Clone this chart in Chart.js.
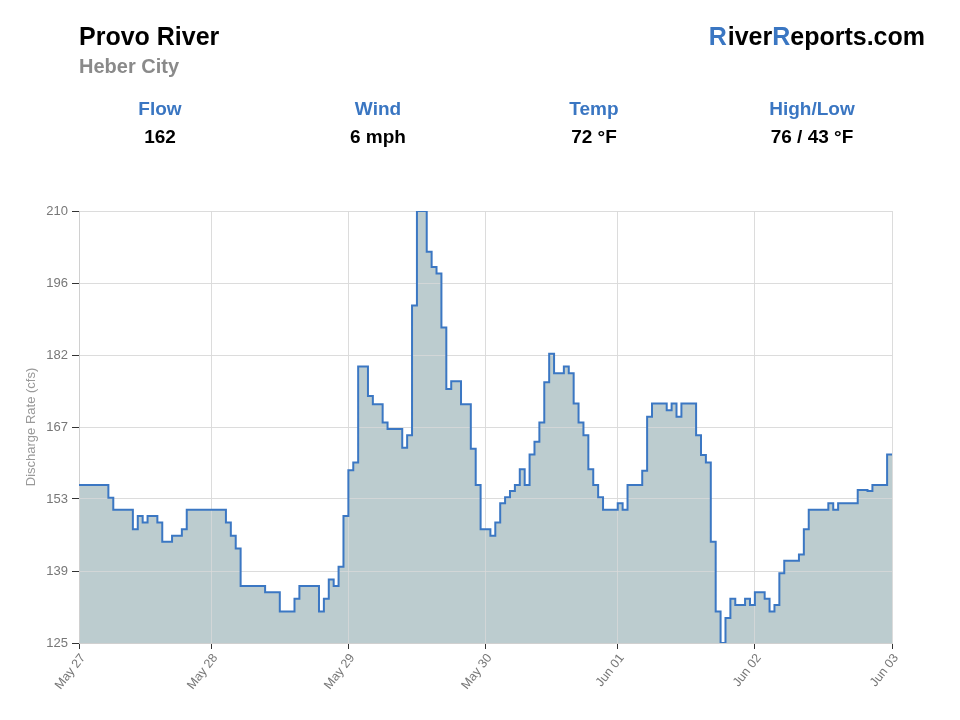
<!DOCTYPE html>
<html><head><meta charset="utf-8">
<script src="https://cdn.jsdelivr.net/npm/chart.js@4/dist/chart.umd.min.js"></script>
<style>
body{margin:0;background:#fff;font-family:"Liberation Sans",Arial,Helvetica,sans-serif;}
#wrap{position:relative;width:960px;height:720px;overflow:hidden;}
#c{position:absolute;left:0;top:0;}
.t{position:absolute;font-weight:bold;white-space:nowrap;line-height:1;}
.s{position:absolute;width:200px;text-align:center;font-weight:bold;line-height:1;font-size:19px;}
.blue{color:#3a76c2;}
</style></head><body>
<div id="wrap">
<canvas id="c" width="960" height="720"></canvas>
<div class="t" style="left:79px;top:24px;font-size:25px;color:#000">Provo River</div>
<div class="t" style="left:79px;top:56px;font-size:20px;color:#8a8a8a">Heber City</div>
<div class="t" style="right:35px;top:24px;font-size:25px;color:#000"><span class="blue">R</span><span style="margin-left:1px">iver</span><span class="blue">R</span>eports.com</div>
<div class="s blue" style="left:60px;top:99px">Flow</div>
<div class="s" style="left:60px;top:127px;color:#000">162</div>
<div class="s blue" style="left:278px;top:99px">Wind</div>
<div class="s" style="left:278px;top:127px;color:#000">6 mph</div>
<div class="s blue" style="left:494px;top:99px">Temp</div>
<div class="s" style="left:494px;top:127px;color:#000">72 °F</div>
<div class="s blue" style="left:712px;top:99px">High/Low</div>
<div class="s" style="left:712px;top:127px;color:#000">76 / 43 °F</div>
</div>
<script>
// hourly reading index where the reading starts, and discharge (cfs)
const hours = [0,6,7,11,12,13,14,16,17,19,21,22,30,31,32,33,38,41,44,45,49,50,51,52,53,54,55,56,57,59,60,62,63,66,67,68,69,71,72,73,74,75,76,78,80,81,82,84,85,86,87,88,89,90,91,92,93,94,95,96,97,99,100,101,102,103,104,105,106,107,110,111,112,115,116,117,120,121,122,123,126,127,128,129,130,131,132,133,134,136,137,138,140,141,142,143,144,147,148,149,153,154,155,159,161,162,165,166];
const flows = [156.1,153.6,151.2,147.4,150.0,148.7,150.0,148.7,144.9,146.1,147.4,151.2,148.7,146.1,143.6,136.2,135.0,131.2,133.7,136.2,131.2,133.7,137.5,136.2,140.0,150.0,159.0,160.5,179.4,173.6,172.0,168.4,167.1,163.4,165.9,191.4,210.0,202.0,199.0,197.7,187.1,175.0,176.5,172.0,163.2,156.1,147.4,146.1,148.7,152.5,153.7,154.9,156.1,159.2,156.1,162.1,164.6,168.4,176.3,181.9,178.1,179.4,178.1,172.1,168.4,165.9,159.2,156.1,153.7,151.2,152.5,151.2,156.1,158.9,169.5,172.1,170.8,172.1,169.5,172.1,165.9,162.0,160.5,144.9,131.2,125.0,129.9,133.7,132.5,133.7,132.5,135.0,133.7,131.2,132.5,138.7,141.2,142.4,147.4,151.2,152.5,151.2,152.5,155.1,154.9,156.1,162.1,162.1];
const xTickHours = [0,27,55,83,110,138,166];
const xTickLabels = ['May 27','May 28','May 29','May 30','Jun 01','Jun 02','Jun 03'];
const yTickLabels = ['125','139','153','167','182','196','210'];
const yMin = 125, yMax = 210;

const pts = hours.map((h,i)=>({x:h,y:flows[i]}));

const gridOver = {
  id:'gridOver',
  beforeDatasetDraw(chart,args){
    if(args.index!==0) return;
    const ctx=chart.ctx;
    ctx.save();
    chart.scales.x.drawGrid(chart.chartArea);
    chart.scales.y.drawGrid(chart.chartArea);
    chart.scales.x.drawBorder();
    chart.scales.y.drawBorder();
    ctx.restore();
  }
};

const FF='"Liberation Sans", Arial, sans-serif';
new Chart(document.getElementById('c'),{
  type:'line',
  data:{datasets:[
    {data:pts,stepped:true,fill:false,borderColor:'#3b77c3',borderWidth:2,pointRadius:0,tension:0},
    {data:pts,stepped:true,fill:'start',backgroundColor:'rgb(188,204,207)',borderWidth:0,pointRadius:0,tension:0}
  ]},
  options:{
    responsive:false,animation:false,devicePixelRatio:1,
    layout:{padding:{left:20,right:68,top:211,bottom:0}},
    plugins:{legend:{display:false},tooltip:{enabled:false}},
    scales:{
      x:{type:'linear',min:0,max:166,
        afterBuildTicks:s=>{s.ticks=xTickHours.map(v=>({value:v}));},
        afterFit:s=>{s.height=77;},
        grid:{color:'rgba(218,218,218,0.75)',tickColor:'#333',tickLength:6},
        border:{color:'#d0d0d0'},
        ticks:{autoSkip:false,maxRotation:52,minRotation:52,labelOffset:4,padding:2,color:'#777',font:{size:12.5,family:FF},
          callback:(v,i)=>xTickLabels[i]}
      },
      y:{min:yMin,max:yMax,
        afterBuildTicks:s=>{s.ticks=yTickLabels.map((l,i)=>({value:yMin+i*(yMax-yMin)/(yTickLabels.length-1)}));},
        afterFit:s=>{s.width=59;},
        grid:{color:'rgba(218,218,218,0.75)',tickColor:'#333',tickLength:7},
        border:{color:'#d0d0d0'},
        ticks:{color:'#777',padding:4,font:{size:13,family:FF},callback:(v,i)=>yTickLabels[i]},
        title:{display:true,text:'Discharge Rate (cfs)',color:'#999',font:{size:13,family:FF}}
      }
    }
  },
  plugins:[gridOver]
});
</script>
</body></html>
